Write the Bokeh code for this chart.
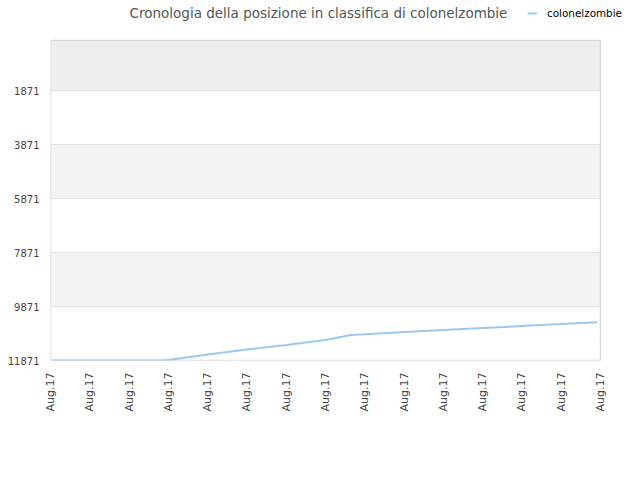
import math
from bokeh.plotting import figure
from bokeh.models import FixedTicker, Range1d, BoxAnnotation, Label, Legend, LegendItem
from bokeh.embed import file_html
from bokeh.resources import INLINE

# ---- data ----
title_text = "Cronologia della posizione in classifica di colonelzombie"
series_name = "colonelzombie"
tick_labels = ["Aug.17"] * 15
tick_positions = list(range(15))
y_ticks = [1871, 3871, 5871, 7871, 9871, 11871]
x_pos = [0, 1, 2, 2.8, 3, 4, 5, 6, 7, 7.65, 8, 9, 10, 11, 12, 13, 13.92]
rank = [11871, 11871, 11871, 11871, 11850, 11650, 11465, 11295, 11110, 10925,
        10900, 10815, 10740, 10668, 10594, 10520, 10453]
band_edges = [19, 1871, 3871, 5871, 7871, 9871, 11871]
band_colors = ["#eeeeee", None, "#f3f3f3", None, "#f3f3f3", None]

FONT = "DejaVu Sans"

# geometry (pixels)
PLOT_LEFT, PLOT_RIGHT, PLOT_TOP, PLOT_BOTTOM = 50, 600, 40, 360
FRAME_RIGHT, FRAME_TOP = 630, 0
x_min, x_max = tick_positions[0], tick_positions[-1]
px_per_x = (PLOT_RIGHT - PLOT_LEFT) / (x_max - x_min)
units_per_px = (y_ticks[1] - y_ticks[0]) / 54.0
y_top_plot = y_ticks[0] - (90 - PLOT_TOP) * units_per_px
y_frame_top = y_ticks[-1] - (PLOT_BOTTOM - FRAME_TOP) * units_per_px
x_frame_right = x_max + (FRAME_RIGHT - PLOT_RIGHT) / px_per_x

p = figure(output_backend="svg", toolbar_location=None,
           frame_width=FRAME_RIGHT - PLOT_LEFT, frame_height=PLOT_BOTTOM - FRAME_TOP,
           x_range=Range1d(x_min, x_frame_right), y_range=Range1d(y_ticks[-1], y_frame_top),
           min_border_left=PLOT_LEFT, min_border_top=FRAME_TOP, min_border_right=8,
           min_border_bottom=60)
p.background_fill_color = "white"
p.border_fill_color = "white"
p.outline_line_color = None
p.xgrid.grid_line_color = None
p.ygrid.grid_line_color = None

for i, c in enumerate(band_colors):
    if c:
        p.add_layout(BoxAnnotation(left=x_min, right=x_max,
                                   bottom=band_edges[i + 1], top=band_edges[i],
                                   fill_color=c, fill_alpha=1, line_alpha=0, level="underlay"))

p.segment(x0=[x_min] * len(y_ticks), x1=[x_max] * len(y_ticks), y0=y_ticks, y1=y_ticks,
          line_color="#e2e2e2", line_width=1)
# plot-area border
p.segment(x0=[x_min, x_max, x_min, x_min], x1=[x_min, x_max, x_max, x_max],
          y0=[y_top_plot, y_top_plot, y_top_plot, y_ticks[-1]],
          y1=[y_ticks[-1], y_ticks[-1], y_top_plot, y_ticks[-1]],
          line_color="#d9d9d9", line_width=1.5)

r = p.line(x_pos, rank, line_color="#99c8f3", line_width=2)

p.yaxis.ticker = FixedTicker(ticks=y_ticks)
p.yaxis.major_label_text_font = FONT
p.yaxis.major_label_text_font_size = "10px"
p.yaxis.major_label_text_color = "#444444"
p.yaxis.major_tick_out = 0
p.yaxis.major_tick_in = 0
p.yaxis.minor_tick_out = 0
p.yaxis.minor_tick_in = 0
p.yaxis.major_label_standoff = 11
p.yaxis.axis_line_color = None

p.xaxis.ticker = FixedTicker(ticks=tick_positions)
p.xaxis.major_label_overrides = {t: l for t, l in zip(tick_positions, tick_labels)}
p.xaxis.major_label_orientation = math.pi / 2
p.xaxis.major_label_text_font = FONT
p.xaxis.major_label_text_font_size = "11px"
p.xaxis.major_label_text_color = "#444444"
p.xaxis.major_tick_out = 0
p.xaxis.major_tick_in = 0
p.xaxis.minor_tick_out = 0
p.xaxis.minor_tick_in = 0
p.xaxis.major_label_standoff = 12
p.xaxis.axis_line_color = None

title_y = y_ticks[0] - (90 - 12) * units_per_px
p.add_layout(Label(x=x_min + (318 - PLOT_LEFT) / px_per_x, y=title_y, text=title_text,
                   text_align="center", text_baseline="middle", text_font=FONT,
                   text_font_size="13.5px", text_color="#555555"))

legend = Legend(items=[LegendItem(label=series_name, renderers=[r])],
                location=(527 - PLOT_LEFT, PLOT_BOTTOM - 19), background_fill_alpha=0,
                border_line_alpha=0, label_text_font=FONT, label_text_font_size="10.4px",
                label_text_color="#000000", glyph_width=10, glyph_height=12,
                label_standoff=10, padding=0, margin=0, label_height=12)
p.add_layout(legend, "center")

open("out.html", "w").write(file_html(p, INLINE))
